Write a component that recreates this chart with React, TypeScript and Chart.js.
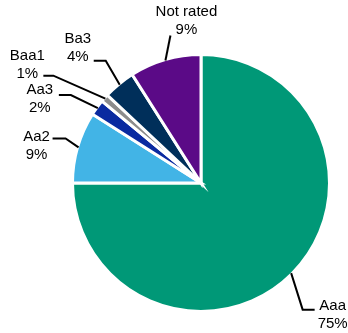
import React, { useEffect, useRef } from "react";
import { Chart, registerables } from "chart.js";

Chart.register(...registerables);

const categories = ["Aaa", "Aa2", "Aa3", "Baa1", "Ba3", "Not rated"];
const shares = [75, 9, 2, 1, 4, 9];
const percentLabels = ["75%", "9%", "2%", "1%", "4%", "9%"];
const sliceColors = ["#009877", "#42B4E6", "#0A2AA0", "#8C8C8C", "#002F5A", "#5B0A87"];

// Leader-line layout per slice, relative to the slice's outer mid-point:
// elbow [dx, dy], line end [dx, dy], first text line centre [dx, dy]
const labelLayout = [
  { elbow: [11.5, 36.5], end: [23.5, 36.5], text: [41.5, 32.5] },
  { elbow: [-13, -9], end: [-26, -9], text: [-42, -11] },
  { elbow: [-27, -13], end: [-39, -13], text: [-58, -18] },
  { elbow: [-52, -23], end: [-62, -23], text: [-78, -43] },
  { elbow: [-14, -24], end: [-26, -24], text: [-42, -46] },
  { elbow: [5, -25], end: [5, -25], text: [21, -49] },
];

const FONT = '15px Arial, "Liberation Sans", sans-serif';
const LINE_H = 18;

const outsideLabels = {
  id: "outsideLabels",
  afterDatasetsDraw(chart: any) {
    const ctx = chart.ctx;
    const meta = chart.getDatasetMeta(0);
    ctx.save();
    meta.data.forEach((arc: any, i: number) => {
      const { x, y, startAngle, endAngle, outerRadius } = arc.getProps(
        ["x", "y", "startAngle", "endAngle", "outerRadius"],
        true
      );
      const mid = (startAngle + endAngle) / 2;
      const ax = x + Math.cos(mid) * (outerRadius - 1);
      const ay = y + Math.sin(mid) * (outerRadius - 1);
      const lay = labelLayout[i];
      ctx.strokeStyle = "#000";
      ctx.lineWidth = 2;
      ctx.beginPath();
      ctx.moveTo(ax, ay);
      ctx.lineTo(ax + lay.elbow[0], ay + lay.elbow[1]);
      ctx.lineTo(ax + lay.end[0], ay + lay.end[1]);
      ctx.stroke();
      ctx.fillStyle = "#000";
      ctx.font = FONT;
      ctx.textAlign = "center";
      ctx.textBaseline = "middle";
      const tx = ax + lay.text[0];
      const ty = ay + lay.text[1];
      ctx.fillText(categories[i], tx, ty);
      ctx.fillText(percentLabels[i], tx, ty + LINE_H);
    });
    ctx.restore();
  },
};

export default function App() {
  const ref = useRef<HTMLCanvasElement>(null);
  useEffect(() => {
    document.body.style.margin = "0";
    const chart = new Chart(ref.current!, {
      type: "pie",
      data: {
        labels: categories,
        datasets: [
          {
            data: shares,
            backgroundColor: sliceColors,
            borderColor: "#ffffff",
            borderWidth: 3,
            borderJoinStyle: "miter",
          } as any,
        ],
      },
      options: {
        animation: false,
        responsive: false,
        maintainAspectRatio: false,
        layout: { padding: { left: 71, right: 17, top: 53, bottom: 20 } },
        plugins: {
          legend: { display: false },
          tooltip: { enabled: false },
        },
      },
      plugins: [outsideLabels],
    });
    return () => chart.destroy();
  }, []);
  return (
    <div style={{ position: "fixed", left: 0, top: 0, width: 348, height: 333 }}>
      <canvas ref={ref} width={348} height={333} style={{ width: 348, height: 333 }} />
    </div>
  );
}
